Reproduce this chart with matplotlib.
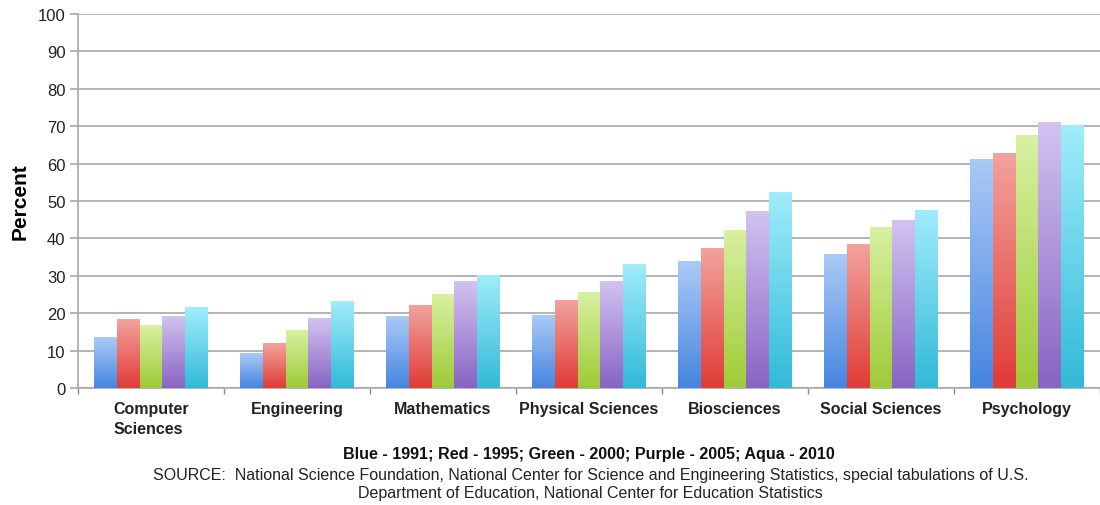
import matplotlib
matplotlib.use("Agg")
import matplotlib.pyplot as plt
import numpy as np
from matplotlib.colors import LinearSegmentedColormap

plt.rcParams['font.family'] = ['Liberation Sans', 'DejaVu Sans']

categories = ["Computer\nSciences", "Engineering", "Mathematics", "Physical Sciences",
              "Biosciences", "Social Sciences", "Psychology"]
years = ["1991", "1995", "2000", "2005", "2010"]
v1991 = [13.6, 9.3, 19.0, 19.5, 33.7, 35.6, 61.2]
v1995 = [18.2, 12.0, 22.0, 23.5, 37.4, 38.3, 62.6]
v2000 = [16.7, 15.3, 25.0, 25.5, 42.0, 42.8, 67.4]
v2005 = [19.0, 18.5, 28.5, 28.5, 47.1, 44.9, 71.1]
v2010 = [21.4, 23.0, 30.0, 33.0, 52.4, 47.4, 70.3]
series = [v1991, v1995, v2000, v2005, v2010]
y_ticks = [0, 10, 20, 30, 40, 50, 60, 70, 80, 90, 100]

# gradient (bottom colour, top colour)
grads = [("#4686e0", "#aac9f6"),
         ("#e03c38", "#f2a29c"),
         ("#9ecb38", "#d8f0a0"),
         ("#8864c4", "#d2c2f0"),
         ("#32bad8", "#a0ecfa")]

fig = plt.figure(figsize=(11, 5.06), dpi=100)
ax = fig.add_axes([0.0709, 0.2312, 0.9291, 0.7392])

n = len(series)
width = 0.155
x = np.arange(len(categories))
for i, (vals, (c0, c1)) in enumerate(zip(series, grads)):
    offs = (i - (n - 1) / 2) * width
    bars = ax.bar(x + offs, vals, width=width, color="none", edgecolor="none", zorder=3)
    cmap = LinearSegmentedColormap.from_list("g%d" % i, [c0, c1])
    grad = np.linspace(0, 1, 64).reshape(-1, 1)
    for b in bars:
        x0, y0 = b.get_x(), b.get_y()
        w, h = b.get_width(), b.get_height()
        ax.imshow(grad, cmap=cmap, origin="lower", aspect="auto",
                  extent=[x0, x0 + w, y0, y0 + h], zorder=3, interpolation="bilinear")

ax.set_xlim(-0.5, len(categories) - 0.5)
ax.set_ylim(0, 100)
ax.set_yticks(y_ticks)
ax.set_yticklabels([str(t) for t in y_ticks], fontsize=12, color="#222222")
ax.yaxis.grid(True, color="#a8a8a8", linewidth=1.2, zorder=0)
ax.set_axisbelow(True)

ax.set_xticks(x)
ax.set_xticklabels(categories, fontsize=11.5, fontweight="bold", color="#222222",
                   linespacing=1.45, va="top")
for lbl in ax.get_xticklabels():
    lbl.set_multialignment("left")
ax.tick_params(axis="x", length=0, pad=9)
ax.set_xticks(np.arange(-0.5, len(categories) + 0.5, 1), minor=True)
ax.tick_params(axis="x", which="minor", length=4, color="#888888", width=1)
ax.tick_params(axis="y", length=6, color="#a8a8a8", width=1.2, pad=3)

for s in ["top", "right"]:
    ax.spines[s].set_visible(False)
ax.spines["left"].set_color("#a8a8a8")
ax.spines["left"].set_linewidth(1.2)
ax.spines["bottom"].set_color("#a8a8a8")
ax.spines["bottom"].set_linewidth(1.2)

ax.set_ylabel("Percent", fontsize=15, fontweight="bold", labelpad=6)

legend_txt = "; ".join("%s - %s" % (c, y) for c, y in
                       zip(["Blue", "Red", "Green", "Purple", "Aqua"], years))
fig.text(0.5355, 1 - 455 / 506, legend_txt, ha="center", va="center",
         fontsize=11.6, fontweight="bold", color="#111111")
fig.text(0.537, 1 - 476 / 506,
         "SOURCE:  National Science Foundation, National Center for Science and Engineering Statistics, special tabulations of U.S.",
         ha="center", va="center", fontsize=11.5, color="#222222")
fig.text(0.537, 1 - 494 / 506,
         "Department of Education, National Center for Education Statistics",
         ha="center", va="center", fontsize=11.5, color="#222222")

fig.savefig("out.png", dpi=100)
